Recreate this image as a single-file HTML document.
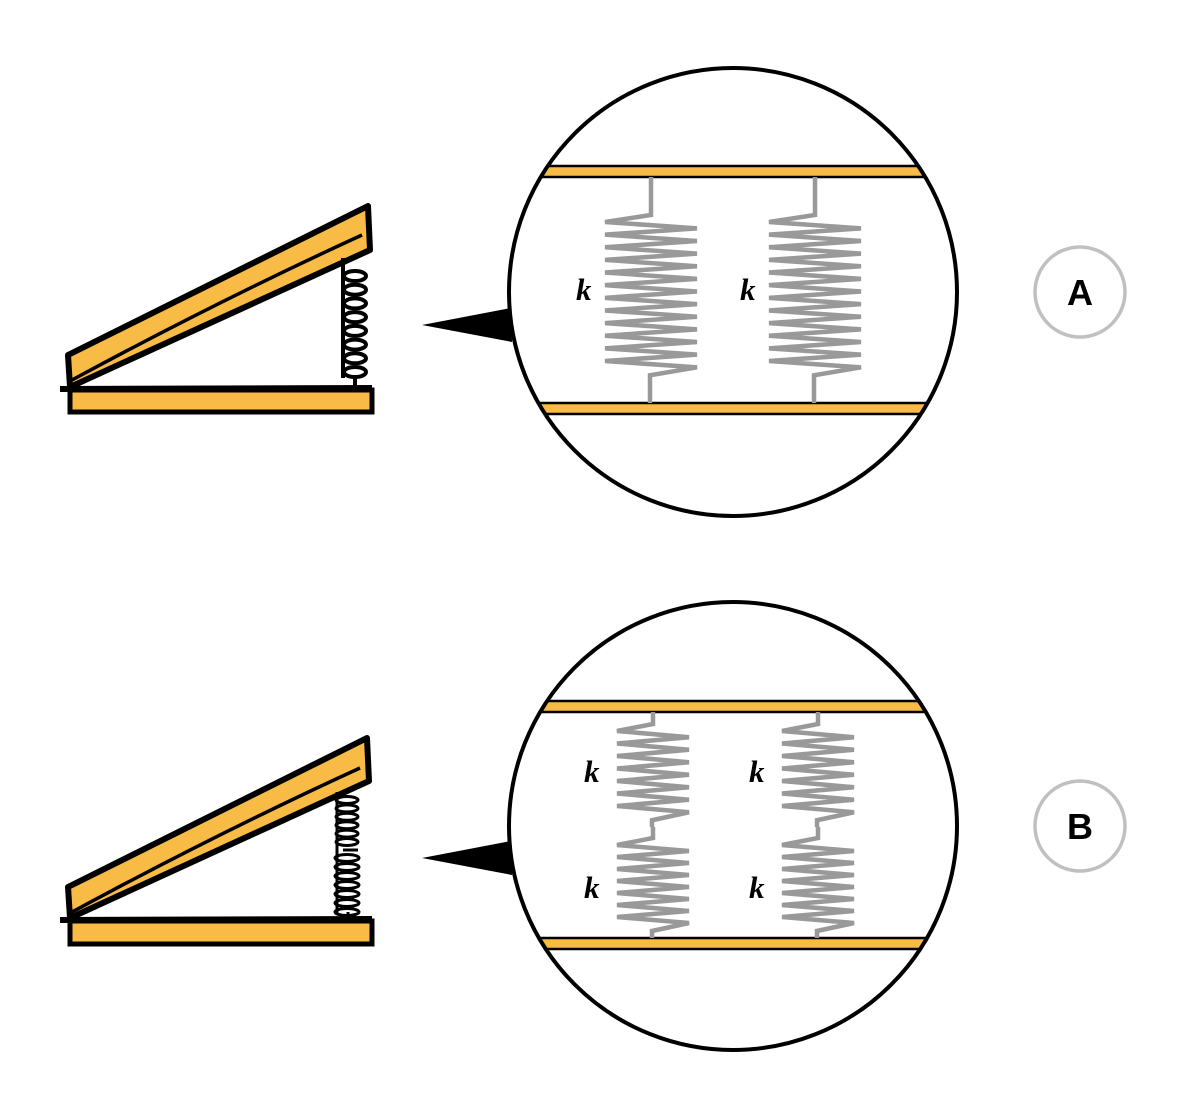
<!DOCTYPE html>
<html><head><meta charset="utf-8"><style>
html,body{margin:0;padding:0;background:#fff}
svg{display:block}
.k{font-family:"Liberation Serif",serif;font-style:italic;font-weight:bold;font-size:31px;fill:#000}
.lab{font-family:"Liberation Sans",sans-serif;font-weight:bold;font-size:36px;fill:#000}
</style></head><body>
<svg id="s" width="1200" height="1116" viewBox="0 0 1200 1116">
<defs>
<clipPath id="cA"><circle cx="733" cy="292" r="224"/></clipPath>
<clipPath id="cB"><circle cx="733" cy="826" r="224"/></clipPath>
</defs>

<!-- Left sketch A -->
<g>
  <rect x="70" y="390" width="302" height="22" fill="#f8bb45" stroke="#000" stroke-width="5"/>
  <line x1="60" y1="389" x2="372" y2="388" stroke="#000" stroke-width="6"/>
  <polygon points="68,355 368,206 370,250 70,387" fill="#f8bb45" stroke="#000" stroke-width="6" stroke-linejoin="round"/>
  <path d="M72,380 Q220,300 362,235" fill="none" stroke="#000" stroke-width="3.5"/>
  <g id="sa" fill="none" stroke="#000" stroke-width="4"></g>
</g>

<!-- Left sketch B -->
<g>
  <rect x="70" y="921" width="302" height="23" fill="#f8bb45" stroke="#000" stroke-width="5"/>
  <line x1="60" y1="920" x2="372" y2="919" stroke="#000" stroke-width="6"/>
  <polygon points="68,887 367,738 369,781 70,918" fill="#f8bb45" stroke="#000" stroke-width="6" stroke-linejoin="round"/>
  <path d="M72,912 Q220,832 360,768" fill="none" stroke="#000" stroke-width="3.5"/>
  <g id="sb" fill="none" stroke="#000" stroke-width="3"></g>
</g>

<!-- Pointers -->
<polygon points="422,325 511,308 512,342" fill="#000"/>
<polygon points="422,858 511,841 512,875" fill="#000"/>

<!-- Zoom circle A -->
<g>
  <circle cx="733" cy="292" r="224" fill="#fff"/>
  <g clip-path="url(#cA)">
    <rect x="500" y="166" width="470" height="11" fill="#f8bb45" stroke="#000" stroke-width="2.5"/>
    <rect x="500" y="403" width="470" height="11" fill="#f8bb45" stroke="#000" stroke-width="2.5"/>
  </g>
  <path id="zA1" fill="none" stroke="#999" stroke-width="4.5"/>
  <path id="zA2" fill="none" stroke="#999" stroke-width="4.5"/>
  <text class="k" x="576" y="300">k</text>
  <text class="k" x="740" y="300">k</text>
  <circle cx="733" cy="292" r="224" fill="none" stroke="#000" stroke-width="4"/>
</g>

<!-- Zoom circle B -->
<g>
  <circle cx="733" cy="826" r="224" fill="#fff"/>
  <g clip-path="url(#cB)">
    <rect x="500" y="701" width="470" height="11" fill="#f8bb45" stroke="#000" stroke-width="2.5"/>
    <rect x="500" y="938" width="470" height="11" fill="#f8bb45" stroke="#000" stroke-width="2.5"/>
  </g>
  <path id="zB1" fill="none" stroke="#999" stroke-width="4.5"/>
  <path id="zB2" fill="none" stroke="#999" stroke-width="4.5"/>
  <text class="k" x="584" y="782">k</text>
  <text class="k" x="749" y="782">k</text>
  <text class="k" x="584" y="898">k</text>
  <text class="k" x="749" y="898">k</text>
  <circle cx="733" cy="826" r="224" fill="none" stroke="#000" stroke-width="4"/>
</g>

<!-- Option labels -->
<g>
  <circle cx="1080" cy="292" r="45" fill="#fff" stroke="#c0c0c0" stroke-width="3.5"/>
  <text class="lab" x="1080" y="305" text-anchor="middle">A</text>
</g>
<g>
  <circle cx="1080" cy="826" r="45" fill="#fff" stroke="#c0c0c0" stroke-width="3.5"/>
  <text class="lab" x="1080" y="839" text-anchor="middle">B</text>
</g>
</svg>
<script>
var NS="http://www.w3.org/2000/svg";
function zig(cx, yTop, y0, y1, yBot, half, n){
  var L=cx-half, R=cx+half;
  var d="M"+cx+","+yTop+" L"+cx+","+(y0-7)+" L"+L+","+y0;
  var step=(y1-y0)/n;
  for(var i=0;i<n;i++){
    d+=" L"+R+","+(y0+step*(i+0.5))+" L"+L+","+(y0+step*(i+1));
  }
  d+=" L"+R+","+(y1+step*0.5)+" L"+(cx-1)+","+(y1+step*0.5+8)+" L"+(cx-1)+","+yBot;
  return d;
}
document.getElementById('zA1').setAttribute('d', zig(651,177,222,361,403,46,11));
document.getElementById('zA2').setAttribute('d', zig(815,177,222,361,403,46,11));
function zig2(cx){
  return zig(cx,712,731,806,827,36,6)+" "+zig(cx,827,845,917,938,36,6);
}
document.getElementById('zB1').setAttribute('d', zig2(653));
document.getElementById('zB2').setAttribute('d', zig2(818));

function coils(g, x, y0, y1, n, rx, ry){
  var s=(y1-y0)/(n-1);
  for(var i=0;i<n;i++){
    var e=document.createElementNS(NS,'ellipse');
    e.setAttribute('cx', x);
    e.setAttribute('cy', y0+s*i);
    e.setAttribute('rx', rx);
    e.setAttribute('ry', ry);
    
    
    g.appendChild(e);
  }
}
function line(g,x1,y1,x2,y2){
  var l=document.createElementNS(NS,'line');
  l.setAttribute('x1',x1);l.setAttribute('y1',y1);l.setAttribute('x2',x2);l.setAttribute('y2',y2);
  
  
  g.appendChild(l);
}
var ga=document.getElementById('sa');
line(ga,343,258,343,378);
line(ga,355,375,355,390);
coils(ga,355,276,372,8,11,5);
var gb=document.getElementById('sb');
line(gb,337,792,337,915);
line(gb,343,850,358,850);
line(gb,348,912,348,920);
coils(gb,347,800,842,6,11,3.5);
coils(gb,347,858,912,7,12,3.5);
</script>
</body></html>
